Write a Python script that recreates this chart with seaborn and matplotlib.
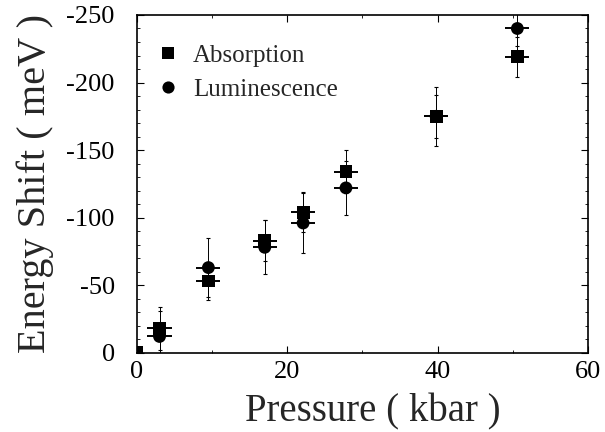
import matplotlib
matplotlib.use("Agg")
import matplotlib.pyplot as plt
import seaborn as sns
import pandas as pd
import numpy as np

# Data
abs_p = [0.0, 3.0, 9.5, 17.0, 22.1, 27.8, 39.8, 50.6]
abs_e = [0.0, -18, -53, -83, -104, -134, -175, -219]
abs_perr = [0.0, 1.6, 1.6, 1.6, 1.6, 1.6, 1.6, 1.6]
abs_eerr = [0.0, 16, 14, 15, 15, 16, 16, 15]

lum_p = [3.0, 9.5, 17.0, 22.1, 27.8, 39.8, 50.6]
lum_e = [-12, -63, -78, -96, -122, -175, -240]
lum_perr = [1.6, 1.6, 1.6, 1.6, 1.6, 1.6, 1.6]
lum_eerr = [19, 22, 20, 22, 20, 22, 13]

sns.set_theme(style="ticks")
plt.rcParams['font.family'] = ['Liberation Serif', 'DejaVu Serif']

df_abs = pd.DataFrame({"p": abs_p, "e": abs_e, "s": "Absorption"})
df_lum = pd.DataFrame({"p": lum_p, "e": lum_e, "s": "Luminescence"})
df = pd.concat([df_abs, df_lum], ignore_index=True)

fig = plt.figure(figsize=(6.05, 4.32), dpi=100)
ax = fig.add_axes([0.2264, 0.1836, 0.7455, 0.7817])

ax.errorbar(abs_p, abs_e, yerr=abs_eerr, fmt="none",
            ecolor="black", elinewidth=0.7, capsize=1.5, capthick=0.8, zorder=2)
ax.errorbar(lum_p, lum_e, yerr=lum_eerr, fmt="none",
            ecolor="black", elinewidth=0.7, capsize=1.5, capthick=0.8, zorder=2)
ax.errorbar(abs_p, abs_e, xerr=abs_perr, fmt="none",
            ecolor="black", elinewidth=1.4, capsize=0, zorder=2)
ax.errorbar(lum_p, lum_e, xerr=lum_perr, fmt="none",
            ecolor="black", elinewidth=1.4, capsize=0, zorder=2)

sns.scatterplot(data=df, x="p", y="e", hue="s", style="s",
                markers={"Absorption": "s", "Luminescence": "o"},
                palette={"Absorption": "black", "Luminescence": "black"},
                s=85, edgecolor="black", linewidth=0, ax=ax, zorder=3)

ax.set_xlim(0, 60)
ax.set_ylim(0, -250)
ax.set_xticks([0, 20, 40, 60])
ax.set_yticks([0, -50, -100, -150, -200, -250])
ax.set_yticklabels(["0", "-50", "-100", "-150", "-200", "-250"])
ax.set_xticks([10, 30, 50], minor=True)
ax.set_yticks(np.arange(0, -251, -10), minor=True)
ax.tick_params(axis="both", which="both", direction="in", top=True, right=True,
               labelsize=19, colors="black")
ax.tick_params(which="major", length=5, width=0.8)
ax.tick_params(which="minor", length=2.5, width=0.6)
ax.tick_params(axis="x", which="major", pad=6)
ax.tick_params(axis="y", which="major", pad=16)
for sp in ax.spines.values():
    sp.set_linewidth(1.2)
    sp.set_color("black")

ax.set_xlabel("Pressure ( kbar )", fontsize=28)
ax.xaxis.set_label_coords(0.524, -0.12)
ax.set_ylabel("Energy Shift ( meV )", fontsize=29)
ax.yaxis.set_label_coords(-0.185, 0.5)

leg = ax.legend(loc="upper left", bbox_to_anchor=(0.041, 0.912), frameon=False,
                fontsize=18, title=None, handlelength=1.0, handletextpad=0.5,
                borderaxespad=0, borderpad=0, labelspacing=0.45, markerscale=0.95)

fig.savefig("out.png", dpi=100)
